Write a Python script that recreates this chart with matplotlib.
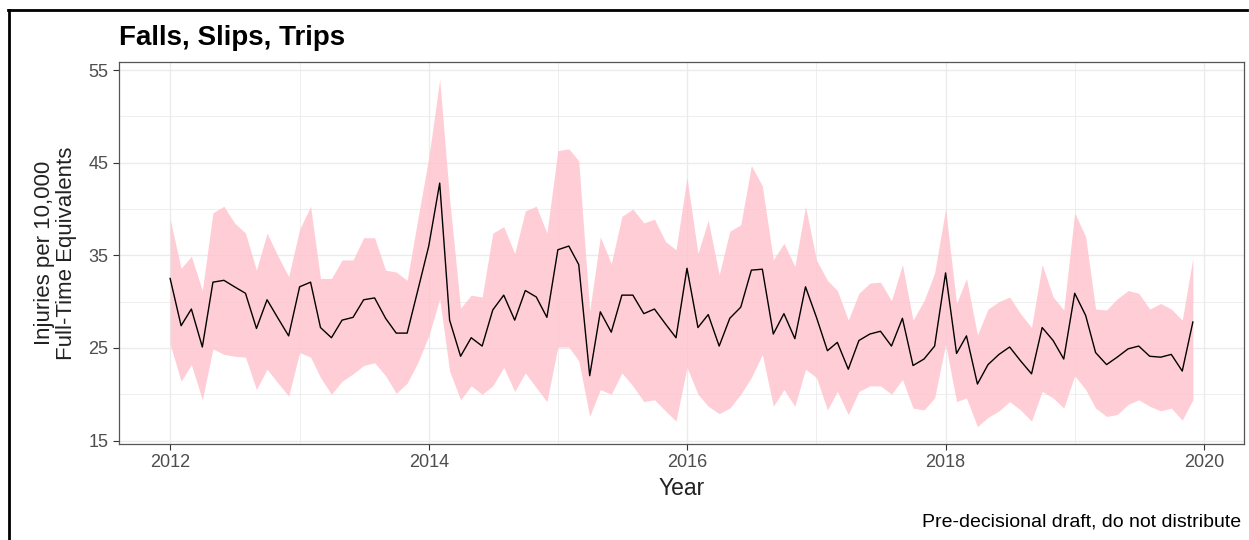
import matplotlib
matplotlib.use("Agg")
import matplotlib.pyplot as plt
import matplotlib.dates as mdates
from matplotlib.lines import Line2D
from matplotlib.ticker import FixedLocator
import pandas as pd
import datetime as dt

plt.rcParams['font.family'] = ['Liberation Sans', 'DejaVu Sans']

dates = pd.date_range('2012-01-01', periods=96, freq='MS')

rate = [
    32.5, 27.4, 29.2, 25.1, 32.1, 32.3, 31.6, 30.9, 27.1, 30.2, 28.2, 26.3,
    31.6, 32.1, 27.2, 26.1, 28.0, 28.3, 30.2, 30.4, 28.2, 26.6, 26.6, 31.2,
    36.0, 42.8, 28.0, 24.1, 26.1, 25.2, 29.1, 30.7, 28.0, 31.2, 30.5, 28.3,
    35.6, 36.0, 34.0, 22.0, 28.9, 26.7, 30.7, 30.7, 28.7, 29.2, 27.6, 26.1,
    33.6, 27.2, 28.6, 25.2, 28.2, 29.4, 33.4, 33.5, 26.5, 28.7, 26.0, 31.6,
    28.3, 24.7, 25.6, 22.7, 25.8, 26.5, 26.8, 25.2, 28.2, 23.1, 23.8, 25.2,
    33.1, 24.4, 26.3, 21.1, 23.2, 24.3, 25.1, 23.6, 22.2, 27.2, 25.8, 23.8,
    30.9, 28.5, 24.5, 23.2, 24.0, 24.9, 25.2, 24.1, 24.0, 24.3, 22.5, 27.8,
]

upper = [
    38.9, 33.6, 34.9, 31.2, 39.6, 40.3, 38.5, 37.4, 33.4, 37.4, 34.9, 32.7,
    37.8, 40.3, 32.5, 32.5, 34.5, 34.5, 36.9, 36.9, 33.4, 33.2, 32.3, 38.9,
    45.5, 54.0, 41.1, 29.3, 30.7, 30.5, 37.4, 38.1, 35.2, 39.8, 40.3, 37.4,
    46.3, 46.5, 45.2, 29.0, 37.0, 34.1, 39.2, 40.0, 38.5, 38.9, 36.5, 35.6,
    43.4, 35.2, 38.8, 32.9, 37.6, 38.3, 44.7, 42.5, 34.5, 36.3, 33.8, 40.3,
    34.5, 32.3, 31.2, 28.0, 30.9, 32.0, 32.1, 30.1, 34.0, 28.0, 30.1, 33.1,
    40.0, 29.8, 32.5, 26.4, 29.2, 30.0, 30.5, 28.7, 27.2, 34.0, 30.5, 29.1,
    39.6, 37.0, 29.2, 29.1, 30.3, 31.2, 30.9, 29.2, 29.8, 29.2, 28.0, 34.7,
]

lower = [
    25.4, 21.4, 23.2, 19.4, 24.9, 24.3, 24.1, 24.0, 20.5, 22.7, 21.2, 19.8,
    24.5, 24.0, 21.8, 20.0, 21.4, 22.2, 23.1, 23.4, 22.0, 20.1, 21.2, 23.4,
    26.3, 30.3, 22.5, 19.4, 20.9, 20.0, 20.9, 22.9, 20.3, 22.3, 20.7, 19.2,
    25.1, 25.1, 23.6, 17.6, 20.5, 20.0, 22.3, 20.9, 19.2, 19.4, 18.2, 17.1,
    22.9, 20.0, 18.7, 17.9, 18.5, 20.0, 21.8, 24.3, 18.7, 20.5, 18.7, 22.7,
    21.8, 18.3, 20.3, 17.8, 20.3, 20.9, 20.9, 20.0, 21.6, 18.5, 18.3, 19.6,
    25.4, 19.2, 19.6, 16.5, 17.5, 18.2, 19.2, 18.3, 17.1, 20.3, 19.6, 18.5,
    22.0, 20.5, 18.5, 17.6, 17.8, 18.9, 19.4, 18.7, 18.2, 18.5, 17.2, 19.4,
]

y_major = [15, 25, 35, 45, 55]
y_minor = [20, 30, 40, 50]
x_major_years = [2012, 2014, 2016, 2018, 2020]
x_minor_years = [2013, 2015, 2017, 2019]

title = "Falls, Slips, Trips"
xlabel = "Year"
ylabel = "Injuries per 10,000\nFull-Time Equivalents"
caption = "Pre-decisional draft, do not distribute"

fig = plt.figure(figsize=(12.49, 5.40), dpi=100)
ax = fig.add_axes([119/1249, 1 - 444/540, (1244-119)/1249, (444-62)/540])

ax.fill_between(dates, lower, upper, color='#FFC0CB', alpha=0.78, linewidth=0, zorder=2)
ax.plot(dates, rate, color='black', linewidth=1.0, zorder=3)
ax.margins(x=0.05, y=0.05)

ax.yaxis.set_major_locator(FixedLocator(y_major))
ax.yaxis.set_minor_locator(FixedLocator(y_minor))
ax.xaxis.set_major_locator(FixedLocator([mdates.date2num(dt.datetime(y, 1, 1)) for y in x_major_years]))
ax.xaxis.set_minor_locator(FixedLocator([mdates.date2num(dt.datetime(y, 1, 1)) for y in x_minor_years]))
ax.set_xticklabels([str(y) for y in x_major_years])

ax.grid(which='major', color='#EBEBEB', linewidth=1.0, zorder=0)
ax.grid(which='minor', color='#EBEBEB', linewidth=0.6, zorder=0)
ax.set_axisbelow(True)

for s in ax.spines.values():
    s.set_color('#555555')
    s.set_linewidth(0.9)

ax.tick_params(which='major', length=4.5, width=0.8, color='#333333',
               labelcolor='#4D4D4D', labelsize=13, pad=3)
ax.tick_params(which='minor', length=0)

ax.set_xlabel(xlabel, fontsize=16.5, color='#222222', labelpad=4)
ax.set_ylabel(ylabel, fontsize=16, color='#222222', labelpad=8, linespacing=1.1)

fig.text(119/1249, 1 - 38/540, title, fontsize=20, fontweight='bold',
         ha='left', va='center', color='black')
fig.text(1241/1249, 1 - 522/540, caption, fontsize=14, ha='right', va='center',
         color='black')

fig.add_artist(Line2D([9/1249, 9/1249], [0, 1 - 10/540], transform=fig.transFigure,
                      color='black', linewidth=2))
fig.add_artist(Line2D([8/1249, 1247/1249], [1 - 10/540, 1 - 10/540], transform=fig.transFigure,
                      color='black', linewidth=2))

fig.savefig('out.png', dpi=100)
